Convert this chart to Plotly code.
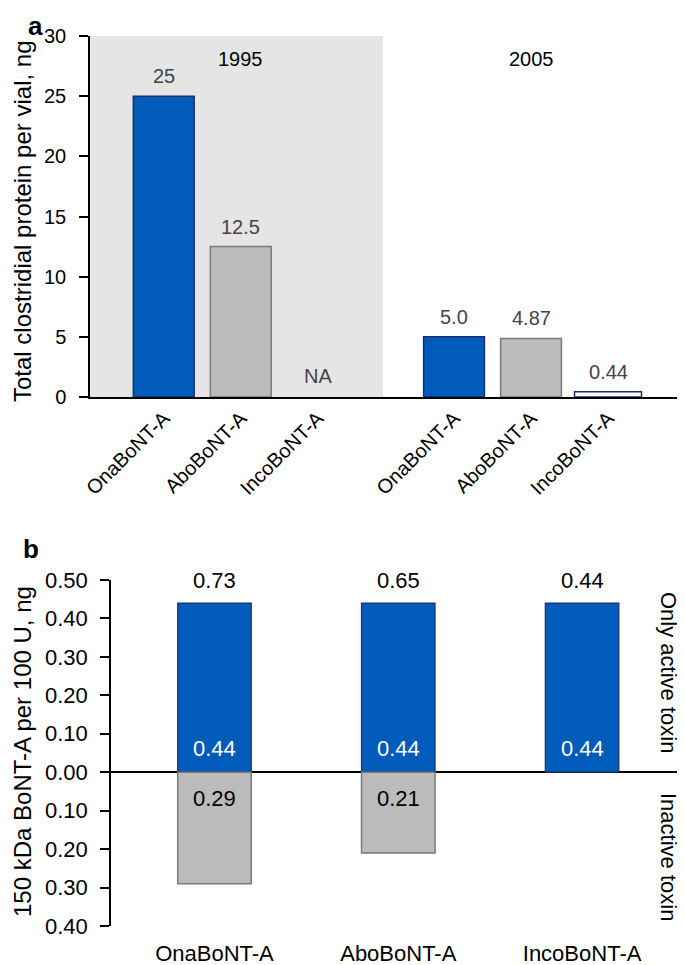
import plotly.graph_objects as go

# ---------------- data ----------------
products = ["OnaBoNT-A", "AboBoNT-A", "IncoBoNT-A"]
years = ["1995", "2005"]
protein_1995 = [25, 12.5, None]          # total clostridial protein per vial, ng (NA = not available)
protein_2005 = [5.0, 4.87, 0.44]
labels_1995 = ["25", "12.5", "NA"]
labels_2005 = ["5.0", "4.87", "0.44"]
top_ticks = [0, 5, 10, 15, 20, 25, 30]

active_toxin = [0.44, 0.44, 0.44]        # 150 kDa BoNT-A per 100 U, ng
inactive_toxin = [0.29, 0.21, 0.0]
bottom_ticks = [0.5, 0.4, 0.3, 0.2, 0.1, 0.0, -0.1, -0.2, -0.3, -0.4]

# ---------------- style / layout helpers ----------------
FONT = "Liberation Sans, Arial, Helvetica, sans-serif"
BLUE = "#005BBB"
NAVY = "#1A2F6E"
GREY = "#BBBBBB"
GREY_LINE = "#7A7A7A"
SHADE = "#E5E5E5"
OFF = 8                      # page body margin
W, H = 685 - OFF, 965 - OFF
GROUP_OFFSET = 3.77


def px(x):
    return (x - OFF) / W


def py(y):
    return 1 - (y - OFF) / H


fig = go.Figure()

# ---------------- panel a ----------------
x1995 = [i for i in range(len(products))]
x2005 = [i + GROUP_OFFSET for i in range(len(products))]
fill_a = [BLUE, GREY, "white"]
line_a = [NAVY, GREY_LINE, NAVY]

fig.add_trace(go.Bar(
    x=x1995, y=protein_1995, width=0.79,
    marker=dict(color=fill_a, line=dict(color=line_a, width=1.5)),
    cliponaxis=False, xaxis="x", yaxis="y", showlegend=False, hoverinfo="skip"))
fig.add_trace(go.Bar(
    x=x2005, y=protein_2005, width=[0.79, 0.79, 0.87],
    marker=dict(color=fill_a, line=dict(color=line_a, width=1.5)),
    cliponaxis=False, xaxis="x", yaxis="y", showlegend=False, hoverinfo="skip"))

for xs, vals, labs in [(x1995, protein_1995, labels_1995), (x2005, protein_2005, labels_2005)]:
    for xv, v, l in zip(xs, vals, labs):
        fig.add_annotation(x=xv, y=v if v is not None else 0, xref="x", yref="y", text=l,
                           showarrow=False, xanchor="center", yanchor="bottom",
                           yshift=7 if v is not None else 8,
                           font=dict(size=20, color="#444444", family=FONT))

for yr, xs in zip(years, [x1995, x2005]):
    fig.add_annotation(x=xs[1], y=30, xref="x", yref="y", text=yr, showarrow=False,
                       xanchor="center", yanchor="top", yshift=-10,
                       font=dict(size=20, color="black", family=FONT))

x_lo_a = -0.958
x_hi_a = 6.77
fig.add_shape(type="rect", xref="x", yref="y", x0=x_lo_a, x1=2.847, y0=0, y1=30,
              fillcolor=SHADE, line=dict(width=0), layer="below")

# ---------------- panel b ----------------
xb = list(range(len(products)))
fig.add_trace(go.Bar(
    x=xb, y=active_toxin, width=0.40,
    marker=dict(color=BLUE, line=dict(color=NAVY, width=1.2)),
    xaxis="x2", yaxis="y2", showlegend=False, hoverinfo="skip"))
fig.add_trace(go.Bar(
    x=xb, y=[-v if v > 0 else None for v in inactive_toxin], width=0.40,
    marker=dict(color=GREY, line=dict(color=GREY_LINE, width=1.5)),
    xaxis="x2", yaxis="y2", showlegend=False, hoverinfo="skip"))

for i, (a, b) in enumerate(zip(active_toxin, inactive_toxin)):
    # total above the bar
    fig.add_annotation(x=xb[i], y=a, xref="x2", yref="y2", text=f"{a + b:.2f}",
                       showarrow=False, xanchor="center", yanchor="bottom", yshift=8,
                       font=dict(size=22, color="black", family=FONT))
    # active part, inside at the base
    fig.add_annotation(x=xb[i], y=0, xref="x2", yref="y2", text=f"{a:.2f}",
                       showarrow=False, xanchor="center", yanchor="bottom", yshift=9,
                       font=dict(size=22, color="white", family=FONT))
    # inactive part, below zero
    if b > 0:
        fig.add_annotation(x=xb[i], y=0, xref="x2", yref="y2", text=f"{b:.2f}",
                           showarrow=False, xanchor="center", yanchor="top", yshift=-12,
                           font=dict(size=22, color="black", family=FONT))

# side labels
fig.add_annotation(x=px(669), y=py(672), xref="paper", yref="paper", text="Only active toxin",
                   textangle=90, showarrow=False, xanchor="center", yanchor="middle",
                   font=dict(size=22, color="black", family=FONT))
fig.add_annotation(x=px(669), y=py(857), xref="paper", yref="paper", text="Inactive toxin",
                   textangle=90, showarrow=False, xanchor="center", yanchor="middle",
                   font=dict(size=22, color="black", family=FONT))

# axis titles
fig.add_annotation(x=px(23), y=py(221), xref="paper", yref="paper",
                   text="Total clostridial protein per vial, ng", textangle=-90, showarrow=False,
                   xanchor="center", yanchor="middle",
                   font=dict(size=24, color="black", family=FONT))
fig.add_annotation(x=px(22), y=py(752), xref="paper", yref="paper",
                   text="150 kDa BoNT-A per 100 U, ng", textangle=-90, showarrow=False,
                   xanchor="center", yanchor="middle",
                   font=dict(size=24, color="black", family=FONT))

# panel letters
fig.add_annotation(x=px(35), y=py(26), xref="paper", yref="paper", text="<b>a</b>", showarrow=False,
                   xanchor="center", yanchor="middle", height=20, borderpad=0, valign="middle",
                   font=dict(size=26, color="black", family=FONT))
fig.add_annotation(x=px(31), y=py(549), xref="paper", yref="paper", text="<b>b</b>", showarrow=False,
                   xanchor="center", yanchor="middle", font=dict(size=26, color="black", family=FONT))

fig.update_layout(
    width=W, height=H,
    margin=dict(l=0, r=0, t=0, b=0, pad=0, autoexpand=False),
    paper_bgcolor="white", plot_bgcolor="rgba(0,0,0,0)",
    barmode="overlay",
    font=dict(family=FONT, color="black"),
    xaxis=dict(domain=[px(90), 1.0], anchor="y", range=[x_lo_a, x_hi_a], automargin=False,
               tickmode="array", tickvals=x1995 + x2005, ticktext=products + products,
               tickangle=-45, tickfont=dict(size=20, color="black"),
               showline=True, linecolor="black", linewidth=1.5, ticks="",
               showgrid=False, zeroline=False, fixedrange=True),
    yaxis=dict(domain=[py(397), py(36)], anchor="x", range=[0, 30], automargin=False,
               tickmode="array", tickvals=top_ticks, ticktext=[str(t) for t in top_ticks],
               tickfont=dict(size=20, color="black"), ticks="outside", ticklen=9,
               tickwidth=1.5, tickcolor="black", ticklabelstandoff=9,
               showline=True, linecolor="black", linewidth=1.5,
               showgrid=False, zeroline=False),
    xaxis2=dict(domain=[px(111), 1.0], anchor="y2", range=[-0.563, 2.56], automargin=False,
                tickmode="array", tickvals=xb, ticktext=products,
                tickfont=dict(size=22, color="black"), ticks="", ticklabelstandoff=12,
                showline=False, showgrid=False, zeroline=False),
    yaxis2=dict(domain=[py(926), py(580)], anchor="x2", range=[-0.4, 0.5], automargin=False,
                tickmode="array", tickvals=bottom_ticks,
                ticktext=[f"{abs(t):.2f}" for t in bottom_ticks],
                tickfont=dict(size=22, color="black"), ticks="outside", ticklen=9,
                tickwidth=1.5, tickcolor="black", ticklabelstandoff=8,
                showline=True, linecolor="black", linewidth=1.5,
                showgrid=False, zeroline=True, zerolinecolor="black", zerolinewidth=1.5),
)

fig.write_html("out.html")
